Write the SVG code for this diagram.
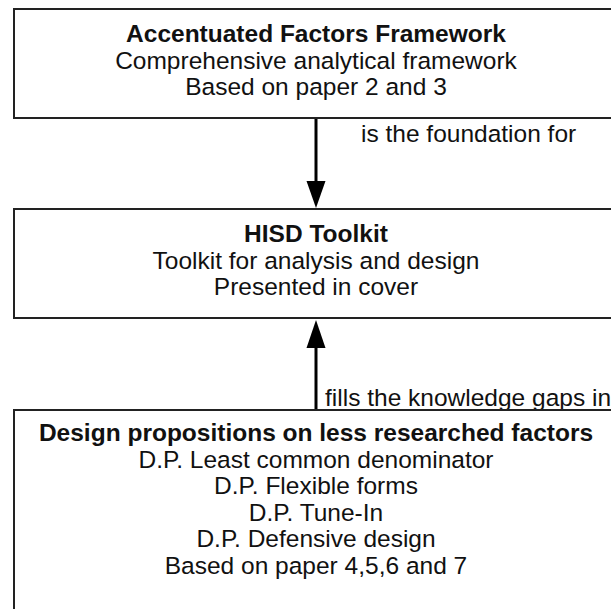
<svg xmlns="http://www.w3.org/2000/svg" width="611" height="609" viewBox="0 0 611 609">
<style>
.box{fill:#fff;stroke:#222;stroke-width:2}
text{font-family:"Liberation Sans",Arial,sans-serif;font-size:24.5px;fill:#111}
.c{text-anchor:middle}
.b{font-weight:bold}
.ln{stroke:#000;stroke-width:3;fill:none}
.ah{fill:#000}
</style>
<rect width="611" height="609" fill="#fff"/>
<g id="connectors">
<line class="ln" x1="316" y1="118" x2="316" y2="184"/>
<polygon class="ah" points="306.5,181 325.5,181 316,208"/>
<text x="361" y="142">is the foundation for</text>
<line class="ln" x1="316" y1="346" x2="316" y2="410"/>
<polygon class="ah" points="306.5,348 325.5,348 316,320"/>
<text x="325" y="406">fills the knowledge gaps in</text>
</g>
<g id="node-framework">
<rect class="box" x="14" y="9" width="604" height="109"/>
<text class="c b" x="316" y="42">Accentuated Factors Framework</text>
<text class="c" x="316" y="68.5">Comprehensive analytical framework</text>
<text class="c" x="316" y="95">Based on paper 2 and 3</text>
</g>
<g id="node-toolkit">
<rect class="box" x="14" y="209" width="604" height="109"/>
<text class="c b" x="316" y="242">HISD Toolkit</text>
<text class="c" x="316" y="268.5">Toolkit for analysis and design</text>
<text class="c" x="316" y="295">Presented in cover</text>
</g>
<g id="node-propositions">
<rect class="box" x="14" y="410" width="604" height="220"/>
<text class="c b" x="316" y="441">Design propositions on less researched factors</text>
<text class="c" x="316" y="467.5">D.P. Least common denominator</text>
<text class="c" x="316" y="494">D.P. Flexible forms</text>
<text class="c" x="316" y="520.5">D.P. Tune-In</text>
<text class="c" x="316" y="547">D.P. Defensive design</text>
<text class="c" x="316" y="573.5">Based on paper 4,5,6 and 7</text>
</g>
</svg>
